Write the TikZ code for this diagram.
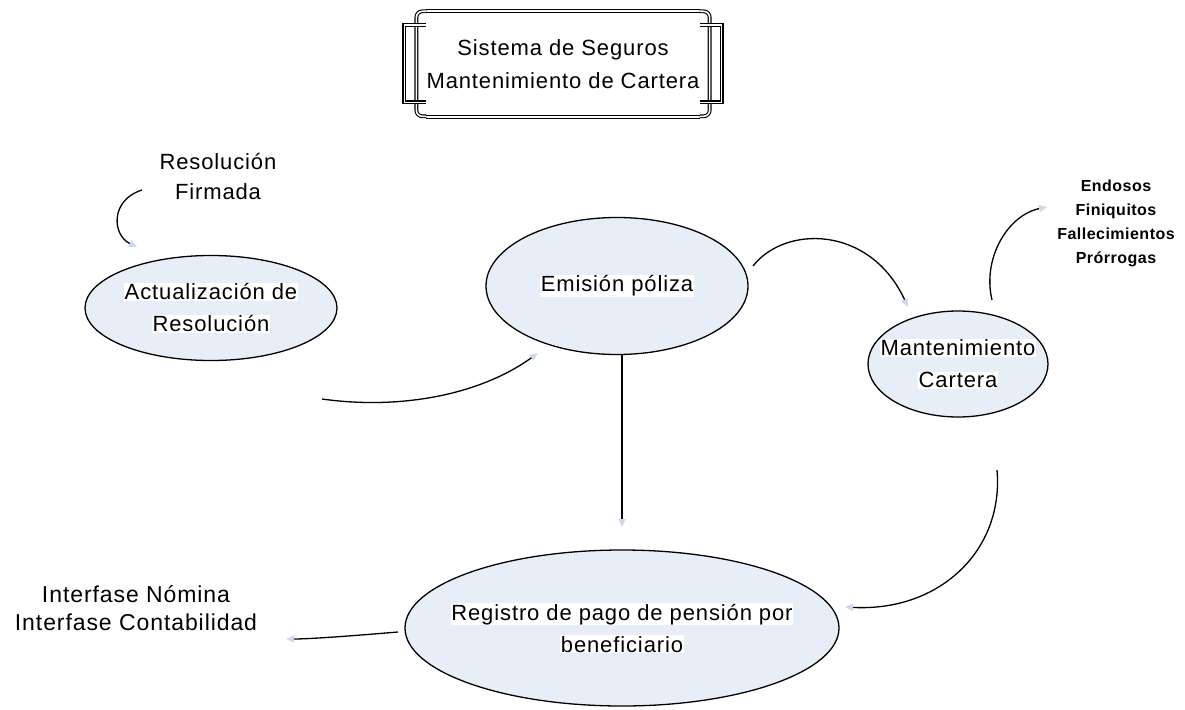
\documentclass[tikz,border=0pt]{standalone}
\usepackage{fontspec}
\setmainfont{Liberation Sans}[LetterSpace=4]
\newfontfamily\notebold{Liberation Sans}[LetterSpace=3]
\usetikzlibrary{shapes.geometric,arrows.meta,calc}
\definecolor{ellfill}{RGB}{232,238,248}
\definecolor{tipcol}{RGB}{205,218,238}
\newcommand{\hlt}[1]{{\setlength{\fboxsep}{0.6pt}\colorbox{white}{#1}}}
\begin{document}
\begin{tikzpicture}[x=1pt,y=-1pt,
  proc/.style={ellipse, draw=black, line width=1.3pt, fill=ellfill, inner sep=0pt},
  lbl/.style={font=\fontsize{22}{32}\selectfont, align=center, inner sep=0pt},
  note/.style={font=\fontsize{22}{30}\selectfont, align=center, inner sep=0pt},
  conn/.style={line width=1.3pt, -{Triangle[length=8pt,width=7pt,color=tipcol,fill=tipcol]}},
  dbl/.style={double, double distance=1.6pt, line width=1.1pt}]
\useasboundingbox[fill=white] (0,0) rectangle (1185,709);

% title
\node[note, font=\fontsize{22}{33}\selectfont, minimum width=266pt, minimum height=105pt] (title) at (563,64)
  {Sistema de Seguros\\Mantenimiento de Cartera};
\draw[dbl] (title.north west) -- (title.north east);
\draw[dbl] (title.south west) -- (title.south east);
\draw[dbl, rounded corners=6pt] (title.north west) -- ++(-10,0) -- ++(0,105) -- ++(10,0);
\draw[dbl] ($(title.north west)+(0,14)$) -- ++(-22,0) -- ++(0,77) -- ++(22,0);
\draw[dbl, rounded corners=6pt] (title.north east) -- ++(10,0) -- ++(0,105) -- ++(-10,0);
\draw[dbl] ($(title.north east)+(0,14)$) -- ++(22,0) -- ++(0,77) -- ++(-22,0);

% process ellipses
\node[proc, minimum width=252pt, minimum height=105pt] (act) at (211,308) {};
\node[lbl] (actL) at (act) {\hlt{Actualización de}\\\hlt{Resolución}};
\node[proc, minimum width=262pt, minimum height=137pt] (emi) at (617,286) {};
\node[lbl] (emiL) at (emi) {\hlt{Emisión póliza}};
\node[proc, minimum width=180pt, minimum height=106pt] (man) at (958,364) {};
\node[lbl] (manL) at (man) {\hlt{Mantenimiento}\\\hlt{Cartera}};
\node[proc, minimum width=434pt, minimum height=156pt] (reg) at (622,628) {};
\node[lbl] (regL) at (reg) {\hlt{Registro de pago de pensión por}\\\hlt{beneficiario}};

% notes
\node[note] (rf) at (218,177) {Resolución\\Firmada};
\node[note, font=\fontsize{16}{24}\selectfont\notebold\bfseries] (endo) at (1116,223)
  {Endosos\\Finiquitos\\Fallecimientos\\Prórrogas};
\node[note, font=\fontsize{23}{28}\selectfont] (intf) at (136,608)
  {Interfase Nómina\\Interfase Contabilidad};

% free ends of connectors
\coordinate (rfA) at (142,190);
\coordinate (actT) at (137,247);
\coordinate (actO) at (322,399);
\coordinate (emiIn) at (538,353);
\coordinate (regT) at (622,527);
\coordinate (emiO) at (753,266);
\coordinate (manIn) at (908,307);
\coordinate (manT) at (992,300);
\coordinate (endoIn) at (1047,207);
\coordinate (manB) at (997,470);
\coordinate (regIn) at (845,607);
\coordinate (regW) at (398,632);
\coordinate (intfIn) at (286,639);

% connectors
\draw[conn] (rfA) .. controls (110,200) and (112,235) .. (actT);
\draw[conn] (actO) .. controls (400,410) and (480,395) .. (emiIn);
\draw[conn] (emi.south -| regT) -- (regT);
\draw[conn] (emiO) .. controls (785,225) and (870,225) .. (manIn);
\draw[conn] (manT) .. controls (982,258) and (1008,215) .. (endoIn);
\draw[conn] (manB) .. controls (1004,550) and (940,612) .. (regIn);
\draw[conn] (regW) .. controls (350,636) and (310,639) .. (intfIn);
\end{tikzpicture}
\end{document}
